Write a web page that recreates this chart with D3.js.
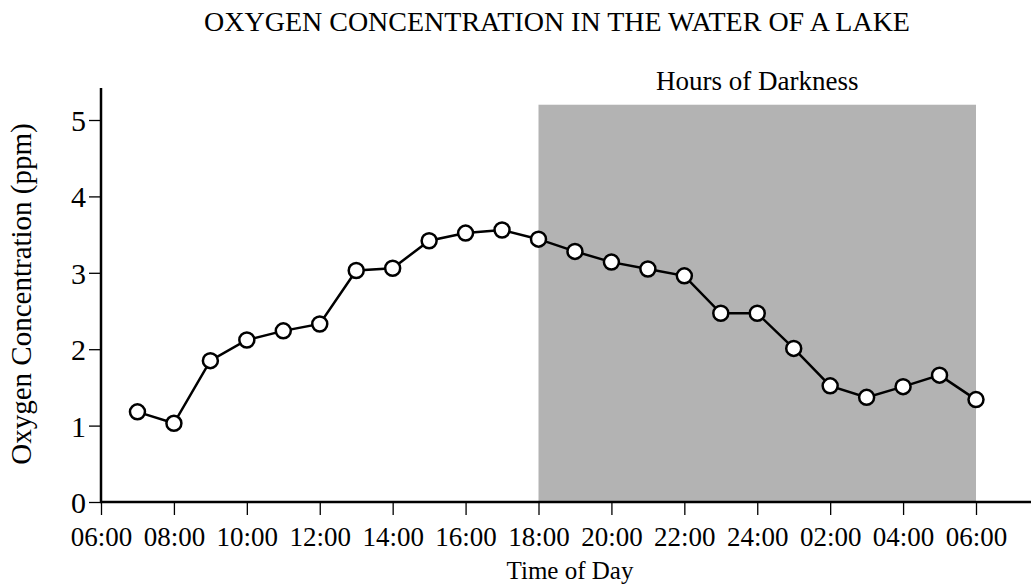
<!DOCTYPE html>
<html>
<head>
<meta charset="utf-8">
<script src="https://cdn.jsdelivr.net/npm/d3@7"></script>
<style>
  body { margin: 0; background: #fff; }
  text { font-family: "Liberation Serif", "Times New Roman", serif; fill: #000; }
</style>
</head>
<body>
<div id="chart"></div>
<script>
var hours = [1, 2, 3, 4, 5, 6, 7, 8, 9, 10, 11, 12, 13, 14, 15, 16, 17, 18, 19, 20, 21, 22, 23, 24];
var oxygen = [1.18, 1.03, 1.85, 2.12, 2.24, 2.33, 3.03, 3.06, 3.42, 3.52, 3.56, 3.44,
              3.28, 3.14, 3.05, 2.96, 2.47, 2.47, 2.01, 1.52, 1.37, 1.51, 1.66, 1.34];
var tickHours = [0, 2, 4, 6, 8, 10, 12, 14, 16, 18, 20, 22, 24];
var tickLabels = ["06:00", "08:00", "10:00", "12:00", "14:00", "16:00", "18:00",
                  "20:00", "22:00", "24:00", "02:00", "04:00", "06:00"];
var yTicks = [0, 1, 2, 3, 4, 5];
var darkness = [12, 24, 5.2];   // start hour, end hour, top value

var width = 1031, height = 586;

var svg = d3.select("#chart").append("svg")
    .attr("width", width)
    .attr("height", height);

var x = d3.scaleLinear().domain([0, 24]).range([101, 976]);
var y = d3.scaleLinear().domain([0, 5]).range([502, 120]);

// shaded night
svg.append("rect")
    .attr("x", x(darkness[0]))
    .attr("y", y(darkness[2]))
    .attr("width", x(darkness[1]) - x(darkness[0]))
    .attr("height", y(0) - y(darkness[2]))
    .attr("fill", "#b3b3b3");

svg.append("text")
    .attr("x", (x(darkness[0]) + x(darkness[1])) / 2)
    .attr("y", 90)
    .attr("text-anchor", "middle")
    .style("font-size", "27px")
    .text("Hours of Darkness");

svg.append("text")
    .attr("x", 557)
    .attr("y", 31)
    .attr("text-anchor", "middle")
    .style("font-size", "28px")
    .text("OXYGEN CONCENTRATION IN THE WATER OF A LAKE");

// x axis
var xAxis = svg.append("g")
    .attr("transform", "translate(0," + y(0) + ")")
    .call(d3.axisBottom(x)
        .tickValues(tickHours)
        .tickFormat(function(d, i) { return tickLabels[i]; })
        .tickSize(13)
        .tickPadding(6));
xAxis.select(".domain").remove();
xAxis.selectAll("line").attr("stroke", "#000").attr("stroke-width", 1.3);
xAxis.selectAll("text")
    .attr("dy", null)
    .attr("y", 44)
    .style("font-size", "27px")
    .style("font-family", "Liberation Serif, serif");

svg.append("line")
    .attr("x1", x(0) - 1).attr("x2", width)
    .attr("y1", y(0)).attr("y2", y(0))
    .attr("stroke", "#000").attr("stroke-width", 2.5);

// y axis
var yAxis = svg.append("g")
    .attr("transform", "translate(" + x(0) + ",0)")
    .call(d3.axisLeft(y)
        .tickValues(yTicks)
        .tickFormat(d3.format("d"))
        .tickSize(12)
        .tickPadding(3));
yAxis.select(".domain").remove();
yAxis.selectAll("line").attr("stroke", "#000").attr("stroke-width", 1.3);
yAxis.selectAll("text")
    .attr("dy", "0.35em")
    .style("font-size", "30px")
    .style("font-family", "Liberation Serif, serif");

svg.append("line")
    .attr("x1", x(0)).attr("x2", x(0))
    .attr("y1", 88).attr("y2", y(0) + 1)
    .attr("stroke", "#000").attr("stroke-width", 2.5);

svg.append("text")
    .attr("transform", "translate(31," + 294 + ") rotate(-90)")
    .attr("text-anchor", "middle")
    .style("font-size", "29px")
    .text("Oxygen Concentration (ppm)");

svg.append("text")
    .attr("x", 570)
    .attr("y", 579)
    .attr("text-anchor", "middle")
    .style("font-size", "25px")
    .text("Time of Day");

// line + points
var data = hours.map(function(h, i) { return {h: h, v: oxygen[i]}; });

svg.append("path")
    .datum(data)
    .attr("fill", "none")
    .attr("stroke", "#000")
    .attr("stroke-width", 2.5)
    .attr("d", d3.line()
        .x(function(d) { return x(d.h); })
        .y(function(d) { return y(d.v); }));

svg.selectAll(".pt")
    .data(data)
    .enter().append("circle")
    .attr("class", "pt")
    .attr("cx", function(d) { return x(d.h); })
    .attr("cy", function(d) { return y(d.v); })
    .attr("r", 7.5)
    .attr("fill", "#fff")
    .attr("stroke", "#000")
    .attr("stroke-width", 2.5);
</script>
</body>
</html>
